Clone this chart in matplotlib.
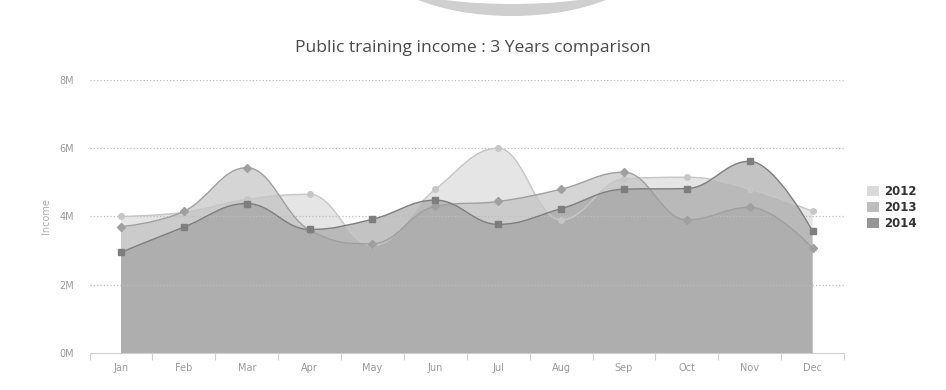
import matplotlib
matplotlib.use("Agg")
import matplotlib.pyplot as plt
from matplotlib.path import Path
from matplotlib.patches import PathPatch, Patch, Ellipse

months = ['Jan', 'Feb', 'Mar', 'Apr', 'May', 'Jun', 'Jul', 'Aug', 'Sep', 'Oct', 'Nov', 'Dec']
income_2012 = [4.0, 4.12, 4.5, 4.65, 3.15, 4.8, 6.0, 3.9, 5.1, 5.15, 4.8, 4.15]
income_2013 = [3.7, 4.15, 5.43, 3.6, 3.2, 4.3, 4.44, 4.8, 5.3, 3.9, 4.27, 3.07]
income_2014 = [2.95, 3.69, 4.38, 3.62, 3.92, 4.48, 3.77, 4.23, 4.8, 4.82, 5.62, 3.57]
years = ['2012', '2013', '2014']
yticks = [0, 2, 4, 6, 8]


def spline_controls(xs, ys, i):
  # highcharts-like areaspline control points
  sm = 1.5
  den = sm + 1
  x, y = xs[i], ys[i]
  lx, ly = xs[i - 1], ys[i - 1]
  nx, ny = xs[i + 1], ys[i + 1]
  lcx = (sm * x + lx) / den
  lcy = (sm * y + ly) / den
  rcx = (sm * x + nx) / den
  rcy = (sm * y + ny) / den
  corr = ((rcy - lcy) * (rcx - x)) / (rcx - lcx) + y - rcy
  lcy += corr
  rcy += corr
  if lcy > ly and lcy > y:
    lcy = max(ly, y); rcy = 2 * y - lcy
  elif lcy < ly and lcy < y:
    lcy = min(ly, y); rcy = 2 * y - lcy
  if rcy > ny and rcy > y:
    rcy = max(ny, y); lcy = 2 * y - rcy
  elif rcy < ny and rcy < y:
    rcy = min(ny, y); lcy = 2 * y - rcy
  return (lcx, lcy), (rcx, rcy)


def spline_path(xs, ys):
  n = len(xs)
  left = [None] * n
  right = [None] * n
  for i in range(n):
    if i == 0 or i == n - 1:
      left[i] = right[i] = (xs[i], ys[i])
    else:
      left[i], right[i] = spline_controls(xs, ys, i)
  verts = [(xs[0], ys[0])]
  codes = [Path.MOVETO]
  for i in range(1, n):
    verts += [right[i - 1], left[i], (xs[i], ys[i])]
    codes += [Path.CURVE4] * 3
  return verts, codes


fig = plt.figure(figsize=(9.46, 3.9), dpi=100)
ax = fig.add_axes([0.0947, 0.0949, 0.7975, 0.70])

fills = ['#d4d4d4', '#bababa', '#9c9c9c']
lines = ['#c6c6c6', '#a0a0a0', '#7e7e7e']
marks = ['o', 'D', 's']
msize = [4, 4, 5]
xs = list(range(len(months)))

for k, vals in enumerate([income_2012, income_2013, income_2014]):
  verts, codes = spline_path(xs, vals)
  area = verts + [(xs[-1], 0), (xs[0], 0), verts[0]]
  acodes = codes + [Path.LINETO, Path.LINETO, Path.CLOSEPOLY]
  ax.add_patch(PathPatch(Path(area, acodes), facecolor=fills[k], edgecolor='none',
                         alpha=0.6, zorder=2 + k))
  ax.add_patch(PathPatch(Path(verts, codes), facecolor='none', edgecolor=lines[k],
                         lw=1.0, zorder=6 + k))
  ax.plot(xs, vals, linestyle='none', marker=marks[k], ms=msize[k],
          color=lines[k], markeredgecolor=lines[k], zorder=9 + k)

# grid shows through the areas in the original
for v in yticks[1:]:
  ax.axhline(v, linestyle=':', color='#bdbdbd', lw=0.9, zorder=5)

ax.set_xlim(-0.5, 11.5)
ax.set_ylim(0, 8)
ax.set_yticks(yticks)
ax.set_yticklabels([f'{v}M' for v in yticks])
ax.set_xticks(xs)
ax.set_xticklabels(months)
ax.set_xticks([i + 0.5 for i in range(-1, 12)], minor=True)
ax.tick_params(axis='x', which='major', length=0, pad=7, labelsize=7, labelcolor='#9a9a9a')
ax.tick_params(axis='x', which='minor', length=5, color='#d0d0d0', width=0.8)
ax.tick_params(axis='y', length=0, pad=11, labelsize=7, labelcolor='#9a9a9a')
for s in ['top', 'right', 'left']:
  ax.spines[s].set_visible(False)
ax.spines['bottom'].set_color('#d0d0d0')
ax.spines['bottom'].set_linewidth(0.8)
ax.set_ylabel('Income', color='#b0b0b0', fontsize=7, labelpad=6)

fig.text(0.5, 0.877, 'Public training income : 3 Years comparison', ha='center', va='center',
         fontsize=12.6, color='#4a4a4a', family='Open Sans')

handles = [Patch(facecolor=c, edgecolor='none') for c in ['#dadada', '#bdbdbd', '#969696']]
leg = fig.legend(handles, years, loc='center left', bbox_to_anchor=(0.905, 0.468),
                 frameon=False, handlelength=1.0, handleheight=1.0, handletextpad=0.5,
                 labelspacing=0.25, prop={'size': 8.5, 'weight': 'bold'})
for t in leg.get_texts():
  t.set_color('#333333')

# gray shape peeking in at the top of the page
fig.add_artist(Ellipse((512 / 946, 1 + 44 / 390), 2 * 138 / 946, 2 * 60 / 390,
                       transform=fig.transFigure, facecolor='#cfcfcf', edgecolor='none'))
fig.add_artist(Ellipse((512 / 946, 1 + 36 / 390), 2 * 154 / 946, 2 * 40 / 390,
                       transform=fig.transFigure, facecolor='white', edgecolor='none'))

plt.savefig('out.png', dpi=100)
